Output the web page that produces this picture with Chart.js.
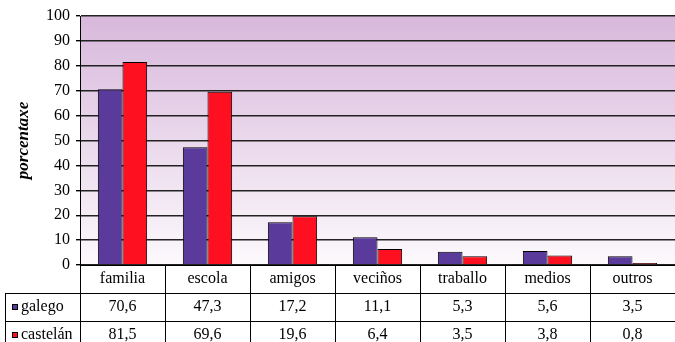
<!DOCTYPE html>
<html>
<head>
<meta charset="utf-8">
<script src="https://cdn.jsdelivr.net/npm/chart.js@4/dist/chart.umd.min.js"></script>
<style>
  html, body { margin: 0; padding: 0; background: #fff; }
  canvas { display: block; }
</style>
</head>
<body>
<canvas id="grafico" width="675" height="342"></canvas>
<script>
// categorías e series (porcentaxes)
const categorias = ['familia', 'escola', 'amigos', 'veciños', 'traballo', 'medios', 'outros'];
const galego = [70.6, 47.3, 17.2, 11.1, 5.3, 5.6, 3.5];
const castelan = [81.5, 69.6, 19.6, 6.4, 3.5, 3.8, 0.8];
const series = ['galego', 'castelán'];
const cores = ['#5a3a9a', '#ff1020'];

const fonte = 'Liberation Serif, "Times New Roman", serif';

// fondo degradado da área do gráfico
const fondo = {
    id: 'fondo',
    beforeDraw(chart) {
        const { ctx, chartArea: a } = chart;
        const g = ctx.createLinearGradient(0, a.top, 0, a.bottom);
        g.addColorStop(0, '#d8b8dc');
        g.addColorStop(1, '#fcf9fc');
        ctx.save();
        ctx.fillStyle = g;
        ctx.fillRect(a.left, a.top, a.right - a.left, a.bottom - a.top);
        ctx.restore();
    }
};

// táboa de datos baixo o eixo X
const taboa = {
    id: 'taboa',
    afterDraw(chart) {
        const { ctx, chartArea: a } = chart;
        const x = chart.scales.x;
        const n = categorias.length;
        const ancho = (a.right - a.left) / n;
        const filas = [a.bottom, a.bottom + 28, a.bottom + 56, a.bottom + 84];
        const esquerda = 5;

        ctx.save();
        ctx.strokeStyle = '#000';
        ctx.lineWidth = 1;
        ctx.beginPath();
        // liñas horizontais
        ctx.moveTo(a.left, filas[0] + 0.5);
        ctx.lineTo(a.right, filas[0] + 0.5);
        for (let f = 1; f < filas.length; f++) {
            ctx.moveTo(esquerda, filas[f] + 0.5);
            ctx.lineTo(a.right, filas[f] + 0.5);
        }
        // liñas verticais
        for (let i = 0; i <= n; i++) {
            const px = Math.round(a.left + i * ancho) + 0.5;
            ctx.moveTo(px, filas[0]);
            ctx.lineTo(px, filas[3]);
        }
        ctx.moveTo(esquerda + 0.5, filas[1]);
        ctx.lineTo(esquerda + 0.5, filas[3]);
        ctx.stroke();

        ctx.fillStyle = '#000';
        ctx.font = '16px ' + fonte;
        ctx.textAlign = 'center';
        ctx.textBaseline = 'middle';
        categorias.forEach((c, i) => {
            ctx.fillText(c, x.getPixelForValue(i), filas[0] + 14);
        });

        const valores = [galego, castelan];
        valores.forEach((serie, s) => {
            const cy = filas[s + 1] + 14;
            serie.forEach((v, i) => {
                ctx.fillStyle = '#000';
                ctx.textAlign = 'center';
                ctx.fillText(v.toFixed(1).replace('.', ','), x.getPixelForValue(i), cy);
            });
            // lenda
            ctx.fillStyle = cores[s];
            ctx.fillRect(12, cy - 3, 6, 6);
            ctx.strokeRect(12.5, cy - 2.5, 5, 5);
            ctx.fillStyle = '#000';
            ctx.textAlign = 'left';
            ctx.fillText(series[s], 21, cy);
        });
        ctx.restore();
    }
};

new Chart(document.getElementById('grafico'), {
    type: 'bar',
    data: {
        labels: categorias,
        datasets: [
            { label: series[0], data: galego, backgroundColor: cores[0], borderColor: '#000', borderWidth: 1 },
            { label: series[1], data: castelan, backgroundColor: cores[1], borderColor: '#000', borderWidth: 1 }
        ]
    },
    options: {
        responsive: false,
        animation: false,
        layout: { padding: { top: 16, right: 0, bottom: 0, left: 0 } },
        datasets: {
            bar: { categoryPercentage: 0.58, barPercentage: 1.0 }
        },
        plugins: {
            legend: { display: false },
            tooltip: { enabled: false }
        },
        scales: {
            x: {
                grid: { display: false },
                border: { display: false },
                ticks: { display: false },
                afterFit(scale) { scale.height = 77; }
            },
            y: {
                min: 0,
                max: 100,
                ticks: {
                    stepSize: 10,
                    padding: 6,
                    color: '#000',
                    font: { family: fonte, size: 16 }
                },
                grid: {
                    color: '#222',
                    lineWidth: 1.4,
                    tickLength: 4,
                    tickColor: '#000'
                },
                border: { color: '#000', width: 1 },
                title: {
                    display: true,
                    text: 'porcentaxe',
                    color: '#000',
                    font: { family: fonte, size: 17, style: 'italic', weight: 'bold' },
                    padding: { top: 13, bottom: 0 }
                },
                afterFit(scale) { scale.width = 80; }
            }
        }
    },
    plugins: [fondo, taboa]
});
</script>
</body>
</html>
